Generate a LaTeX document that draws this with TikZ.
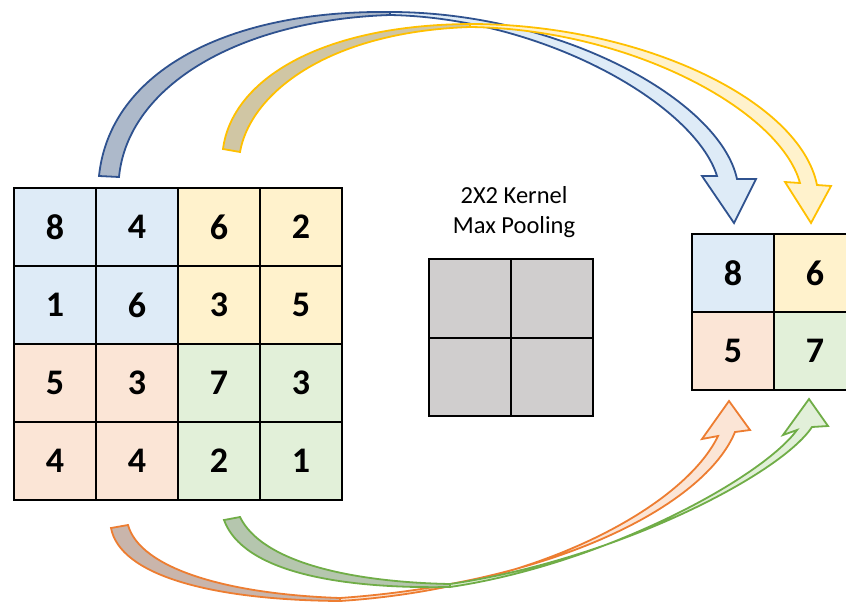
\documentclass[tikz,border=0pt]{standalone}
\usepackage{fontspec}
\setmainfont{Carlito}
\definecolor{bluel}{HTML}{2F528F}
\definecolor{bluef}{HTML}{DEEBF7}
\definecolor{blueb}{HTML}{ADB9CA}
\definecolor{yell}{HTML}{FFC000}
\definecolor{yelf}{HTML}{FFF2CC}
\definecolor{yelb}{HTML}{D0C6A4}
\definecolor{orl}{HTML}{ED7D31}
\definecolor{orf}{HTML}{FBE5D6}
\definecolor{orb}{HTML}{C9B5AB}
\definecolor{grl}{HTML}{70AD47}
\definecolor{grf}{HTML}{E2F0D9}
\definecolor{grb}{HTML}{B5C6AE}
\definecolor{kern}{HTML}{D0CECE}
\begin{document}
\begin{tikzpicture}[x=1pt,y=-1pt,
  cell/.style={draw=black,line width=2pt,minimum width=82pt,minimum height=78pt,
    inner sep=0pt,anchor=north west,font=\fontsize{36}{36}\selectfont\bfseries},
  kcell/.style={draw=black,line width=2pt,minimum width=82pt,minimum height=78.5pt,
    inner sep=0pt,anchor=north west,fill=kern},
  ribbon/.style={line width=1.8pt,line join=miter},
  lbl/.style={anchor=base,font=\fontsize{24.5}{24.5}\selectfont,inner sep=0pt}]
\useasboundingbox (0,0) rectangle (846,603);
\clip (0,0) rectangle (846,603);
% left grid
\foreach \r/\a/\b/\c/\d in {1/8/4/6/2,2/1/6/3/5,3/5/3/7/3,4/4/4/2/1}{
  \pgfmathsetmacro{\yy}{187+78*(\r-1)}
  \ifnum\r<3
    \node[cell,fill=bluef] (L\r1) at (13,\yy) {\a};
    \node[cell,fill=bluef] (L\r2) at (95,\yy) {\b};
    \node[cell,fill=yelf] (L\r3) at (177,\yy) {\c};
    \node[cell,fill=yelf] (L\r4) at (259,\yy) {\d};
  \else
    \node[cell,fill=orf] (L\r1) at (13,\yy) {\a};
    \node[cell,fill=orf] (L\r2) at (95,\yy) {\b};
    \node[cell,fill=grf] (L\r3) at (177,\yy) {\c};
    \node[cell,fill=grf] (L\r4) at (259,\yy) {\d};
  \fi
}
% kernel
\node[kcell] (K11) at (428,258) {};
\node[kcell] (K12) at (510,258) {};
\node[kcell] (K21) at (428,336.5) {};
\node[kcell] (K22) at (510,336.5) {};
\node[lbl] (t1) at (514,203) {2X2 Kernel};
\node[lbl] (t2) at (514,233) {Max Pooling};
% right grid
\node[cell,fill=bluef] (R11) at (691,233) {8};
\node[cell,fill=yelf] (R12) at (773,233) {6};
\node[cell,fill=orf] (R21) at (691,311) {5};
\node[cell,fill=grf] (R22) at (773,311) {7};
% blue arrow
\filldraw[ribbon,draw=bluel,fill=blueb] (99,176) .. controls (110,70) and (230,10) .. (390,12)
  -- (390,15) .. controls (240,20) and (128,85) .. (119,177) -- cycle;
\filldraw[ribbon,draw=bluel,fill=bluef] (390,12) .. controls (560,12) and (720,100) .. (737,179)
  -- (756,179) -- (734,223) -- (702,176) -- (717,176)
  .. controls (695,105) and (545,18) .. (390,15) -- cycle;
% yellow arrow
\filldraw[ribbon,draw=yell,fill=yelb] (223,149) .. controls (232,80) and (320,25) .. (470,24)
  -- (470,27) .. controls (325,32) and (250,95) .. (240,152) -- cycle;
\filldraw[ribbon,draw=yell,fill=yelf] (470,24) .. controls (640,24) and (800,100) .. (817,185)
  -- (831,186) -- (811,223) -- (785,182) -- (800,183)
  .. controls (780,110) and (630,29) .. (470,27) -- cycle;
% orange arrow
\filldraw[ribbon,draw=orl,fill=orb] (111,528) .. controls (120,575) and (210,600) .. (340,601)
  -- (340,598) .. controls (225,594) and (140,568) .. (128,525) -- cycle;
\filldraw[ribbon,draw=orl,fill=orf] (340,601) .. controls (540,588) and (685,505) .. (718,436)
  -- (702,439) -- (729,401) -- (750,430) -- (735,432)
  .. controls (705,505) and (555,583) .. (340,598) -- cycle;
% green arrow
\filldraw[ribbon,draw=grl,fill=grb] (224,520) .. controls (243,572) and (340,589) .. (450,587)
  -- (450,584) .. controls (350,582) and (262,562) .. (240,517) -- cycle;
\filldraw[ribbon,draw=grl,fill=grf] (450,587) .. controls (600,565) and (760,480) .. (797,430)
  -- (783,435) -- (809,399) -- (828,426) -- (812,427)
  .. controls (780,475) and (615,560) .. (450,584) -- cycle;
\end{tikzpicture}
\end{document}
